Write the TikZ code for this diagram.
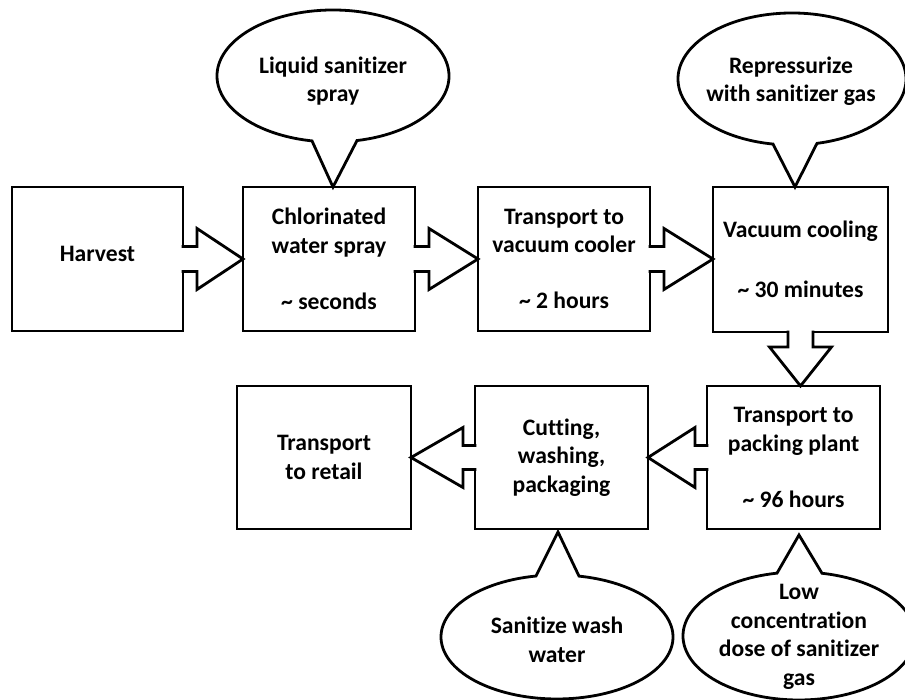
\documentclass[tikz,border=0pt]{standalone}
\usepackage{fontspec}
\setmainfont{Carlito}[Ligatures=NoCommon]
\usetikzlibrary{calc}
\newcommand{\lbl}{\fontsize{23.6}{28.5}\selectfont\bfseries}
\tikzset{
  blk/.style={line width=2.8pt, line join=miter},
  stepbox/.style={draw, blk, rectangle, inner sep=0pt, outer sep=0pt, align=center, font=\lbl},
  ctext/.style={inner sep=0pt, align=center, font=\lbl},
}
% block arrow to the right: from #1.east to #2.west
\newcommand{\ArrR}[2]{%
  \fill[white] ($(#1.east)+(-2,12.5)$) -- ($(#1.east)+(14,12.5)$) -- ($(#1.east)+(14,30.5)$) -- (#1.east -| #2.west)
     -- ($(#1.east)+(14,-30.5)$) -- ($(#1.east)+(14,-12.5)$) -- ($(#1.east)+(-2,-12.5)$) -- cycle;
  \draw[blk] ($(#1.east)+(-1.4,12.5)$) -- ($(#1.east)+(14,12.5)$) -- ($(#1.east)+(14,30.5)$) -- (#1.east -| #2.west)
     -- ($(#1.east)+(14,-30.5)$) -- ($(#1.east)+(14,-12.5)$) -- ($(#1.east)+(-1.4,-12.5)$);}
% block arrow to the left: from #1.west to #2.east
\newcommand{\ArrL}[2]{%
  \fill[white] ($(#1.west)+(2,12)$) -- ($(#1.west)+(-12,12)$) -- ($(#1.west)+(-12,30)$) -- (#1.west -| #2.east)
     -- ($(#1.west)+(-12,-30)$) -- ($(#1.west)+(-12,-12)$) -- ($(#1.west)+(2,-12)$) -- cycle;
  \draw[blk] ($(#1.west)+(1.4,12)$) -- ($(#1.west)+(-12,12)$) -- ($(#1.west)+(-12,30)$) -- (#1.west -| #2.east)
     -- ($(#1.west)+(-12,-30)$) -- ($(#1.west)+(-12,-12)$) -- ($(#1.west)+(1.4,-12)$);}
% block arrow downwards: from #1.south to #2.north
\newcommand{\ArrD}[2]{%
  \fill[white] ($(#1.south)+(-12.5,2)$) -- ($(#1.south)+(-12.5,-15)$) -- ($(#1.south)+(-31,-15)$) -- (#1.south |- #2.north)
     -- ($(#1.south)+(31,-15)$) -- ($(#1.south)+(12.5,-15)$) -- ($(#1.south)+(12.5,2)$) -- cycle;
  \draw[blk] ($(#1.south)+(-12.5,1.4)$) -- ($(#1.south)+(-12.5,-15)$) -- ($(#1.south)+(-31,-15)$) -- (#1.south |- #2.north)
     -- ($(#1.south)+(31,-15)$) -- ($(#1.south)+(12.5,-15)$) -- ($(#1.south)+(12.5,1.4)$);}
% speech bubble with tail pointing down: #1 centre, #2 rx, #3 ry, #4 |dx| left base, #5 dx right base, #6 tip
\newcommand{\BubbleDown}[6]{%
  \draw[blk] (#1) ++({360-acos(#5/#2)}:#2pt and #3pt)
     arc[start angle={360-acos(#5/#2)}, end angle={540+acos(#4/#2)}, x radius=#2pt, y radius=#3pt] -- #6 -- cycle;}
% speech bubble with tail pointing up
\newcommand{\BubbleUp}[6]{%
  \draw[blk] (#1) ++({180-acos(#4/#2)}:#2pt and #3pt)
     arc[start angle={180-acos(#4/#2)}, end angle={360+acos(#5/#2)}, x radius=#2pt, y radius=#3pt] -- #6 -- cycle;}

\begin{document}
\begin{tikzpicture}[x=1pt, y=1pt]
\useasboundingbox (0,0) rectangle (905,700);
\fill[white] (0,0) rectangle (905,700);
\clip (0,0) rectangle (905,700);

% process boxes
\node[stepbox, minimum width=171, minimum height=144] (harv) at (97.5,441) {\raisebox{10pt}{Harvest}};
\node[stepbox, minimum width=172, minimum height=144] (chl) at (329,441) {Chlorinated\\water spray\\[27.5pt]\textasciitilde{} seconds};
\node[stepbox, minimum width=172, minimum height=144] (tvc) at (564,441) {Transport to\\vacuum cooler\\[27.5pt]\textasciitilde{} 2 hours};
\node[stepbox, minimum width=175, minimum height=145] (vac) at (800.5,440.5) {Vacuum cooling\\[31.5pt]\textasciitilde{} 30 minutes};
\node[stepbox, minimum width=173, minimum height=143] (tpp) at (793.5,242.5) {Transport to\\packing plant\\[27.5pt]\textasciitilde{} 96 hours};
\node[stepbox, minimum width=173, minimum height=143] (cut) at (561.5,242.5) {Cutting,\\washing,\\packaging};
\node[stepbox, minimum width=174, minimum height=143] (ret) at (324,242.5) {Transport\\to retail};

% block arrows
\ArrR{harv}{chl}
\ArrR{chl}{tvc}
\ArrR{tvc}{vac}
\ArrD{vac}{tpp}
\ArrL{tpp}{cut}
\ArrL{cut}{ret}

% callouts
\coordinate (e1) at (333,624);
\coordinate (e2) at (792,621);
\coordinate (e3) at (557,63);
\coordinate (e4) at (799,64);
\BubbleDown{e1}{116}{66}{21}{24}{($(chl.north)+(4,0)$)}
\BubbleDown{e2}{114}{66}{19}{25}{($(vac.north)+(-5.5,0)$)}
\BubbleUp{e3}{116}{62}{21}{22}{($(cut.south)+(-3.5,-3)$)}
\BubbleUp{e4}{116}{64}{22}{23}{($(tpp.south)+(5.5,-6)$)}

\node[ctext] (c1) at (333,619) {Liquid sanitizer\\spray};
\node[ctext] (c2) at (791,619) {Repressurize\\with sanitizer gas};
\node[ctext] (c3) at (557,60) {Sanitize wash\\water};
\node[ctext] (c4) at (799,63) {Low\\concentration\\dose of sanitizer\\gas};
\end{tikzpicture}
\end{document}
